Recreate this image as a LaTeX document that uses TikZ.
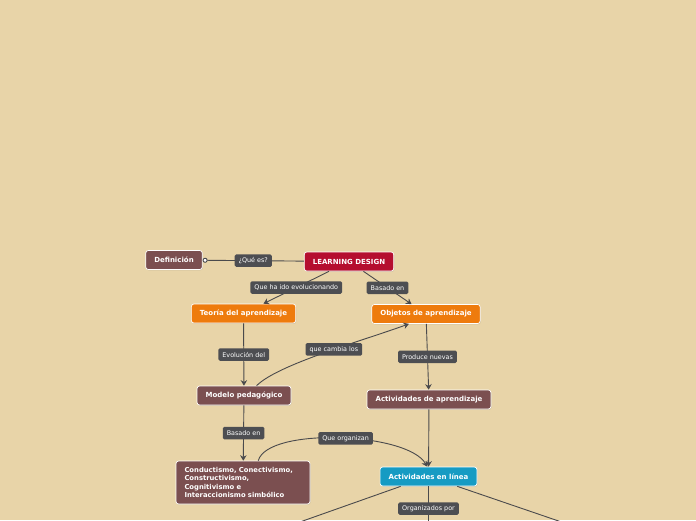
\documentclass[tikz,border=0pt]{standalone}
\usepackage{fontspec}
\setmainfont{DejaVu Sans}
\usepackage{xcolor}
\usepackage{tikz}
\usetikzlibrary{arrows.meta, positioning, shadows}
\definecolor{bgtan}{HTML}{E8D4A8}
\definecolor{ldred}{HTML}{B50E2F}
\definecolor{nodebrown}{HTML}{7B4F50}
\definecolor{nodeorange}{HTML}{EE7B0D}
\definecolor{nodeteal}{HTML}{169BC3}
\definecolor{taggray}{HTML}{4D4E52}
\definecolor{linegray}{HTML}{4A4A4C}

\begin{document}
\begin{tikzpicture}[x=1pt, y=-1pt,
  topic/.style={rectangle, draw=white, line width=0.7pt, fill=#1, rounded corners=2.5pt,
                text=white, font=\fontsize{7}{8.2}\selectfont\bfseries,
                inner xsep=8.5pt, inner ysep=0pt, minimum height=19pt,
                drop shadow={shadow xshift=0.6pt, shadow yshift=-0.8pt, opacity=0.25}},
  rel/.style={-{Stealth[length=5.5pt, width=6.5pt]}, line width=0.9pt, linegray},
  tag/.style={rectangle, fill=taggray, rounded corners=1.5pt, text=white,
              font=\fontsize{6.4}{7}\selectfont, inner xsep=4pt, inner ysep=0pt,
              minimum height=12.5pt},
]
  \useasboundingbox (0,0) rectangle (696,520);
  \fill[bgtan] (0,0) rectangle (696,520);
  \clip (0,0) rectangle (696,520);

  % Topics
  \node[topic=ldred]      (ld)      at (349,261.5) {LEARNING DESIGN};
  \node[topic=nodebrown]  (def)     at (174,260)   {Definición};
  \node[topic=nodeorange] (teoria)  at (243.5,313.5) {Teoría del aprendizaje};
  \node[topic=nodeorange] (objetos) at (426,314)   {Objetos de aprendizaje};
  \node[topic=nodebrown]  (modelo)  at (244,395.5) {Modelo pedagógico};
  \node[topic=nodebrown]  (actapr)  at (429,399.5) {Actividades de aprendizaje};
  \node[topic=nodebrown, align=left, text width=117pt, inner ysep=6.5pt,
        font=\fontsize{6.8}{8.2}\selectfont\bfseries]
                          (teorias) at (243,482.5)
    {Conductismo, Conectivismo,\\Constructivismo,\\Cognitivismo e\\Interaccionismo simbólico};
  \node[topic=nodeteal]   (actlin)  at (428.5,476.5) {Actividades en línea};

  % Off-page ends
  \coordinate (offL) at (249,540);
  \coordinate (offM) at (428.5,531);
  \coordinate (offR) at (620,542);

  % Connectors (y points down, so polar angles are negated)
  \draw[line width=0.9pt, linegray, -{Circle[open, length=5pt, fill=white]}]
    (ld) -- node[tag]{¿Qué es?} (def);
  \draw[rel] (ld) -- node[tag]{Que ha ido evolucionando} (teoria);
  \draw[rel] (ld) -- node[tag]{Basado en} (objetos);
  \draw[rel] (teoria) -- node[tag]{Evolución del} (modelo);
  \draw[rel] (modelo.38) .. controls +(-45:30) and +(160:50) ..
    node[tag, pos=0.56]{que cambia los} (objetos.210);
  \draw[rel] (objetos) -- node[tag]{Produce nuevas} (actapr);
  \draw[rel] (modelo) -- node[tag]{Basado en} (teorias);
  \draw[rel] (teorias.55) .. controls +(-75:35) and +(-120:40) ..
    node[tag, pos=0.53]{Que organizan} (actlin.97);
  \draw[rel] (actapr) -- (actlin);
  \draw[rel] (actlin) -- (offL);
  \draw[rel] (actlin) -- node[tag]{Organizados por} (offM);
  \draw[rel] (actlin) -- (offR);
\end{tikzpicture}
\end{document}
